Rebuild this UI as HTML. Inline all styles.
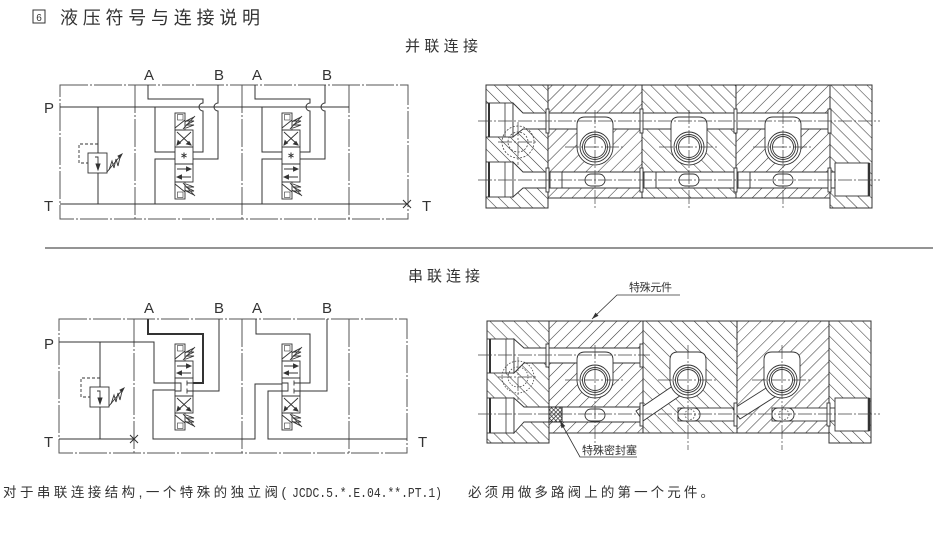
<!DOCTYPE html>
<html><head><meta charset="utf-8"><style>
html,body{margin:0;padding:0;background:#fff;}
svg{display:block;}
text{font-family:"Liberation Sans","Noto Sans CJK SC",sans-serif;fill:#333;}
</style></head><body>
<svg width="944" height="535" viewBox="0 0 944 535" xmlns="http://www.w3.org/2000/svg">
<defs>
<pattern id="hB" patternUnits="userSpaceOnUse" width="8.5" height="8.5" patternTransform="rotate(-45)"><rect width="8.5" height="8.5" fill="#fff"/><line x1="0" y1="-1" x2="0" y2="10" stroke="#3a3a3a" stroke-width="1.1"/></pattern>
<pattern id="hF" patternUnits="userSpaceOnUse" width="8.5" height="8.5" patternTransform="rotate(45)"><rect width="8.5" height="8.5" fill="#fff"/><line x1="0" y1="-1" x2="0" y2="10" stroke="#3a3a3a" stroke-width="1.1"/></pattern>
<pattern id="hX" patternUnits="userSpaceOnUse" width="3" height="3" patternTransform="rotate(45)"><rect width="3" height="3" fill="#fff"/><line x1="0" y1="0" x2="0" y2="3" stroke="#222" stroke-width="1.3"/><line x1="0" y1="0" x2="3" y2="0" stroke="#222" stroke-width="1.3"/></pattern>
<g id="spA">
<rect x="0" y="0" width="10" height="17"/>
<rect x="2.5" y="1.5" width="5.5" height="5.5" stroke-width="0.6"/>
<line x1="0" y1="15" x2="10" y2="7"/>
<polyline points="10,9 19,4 11,8 19,8 11,12 19,12 11,15"/>
<line x1="8" y1="16" x2="20" y2="3"/>
</g>
<g id="spoolT" fill="none" stroke="#333" stroke-width="0.9">
<use href="#spA"/>
<rect x="0" y="17" width="18" height="17"/>
<path d="M2,19L16,32M16,19L2,32"/>
<path d="M16,32l-4.5,-1l2.5,-2.5zM2,32l1,-4.5l2.5,2.5z" fill="#333"/>
<rect x="0" y="34" width="18" height="17"/>
<path d="M9,39.5v6M6.4,41l5.2,3M6.4,44l5.2,-3" stroke-width="1"/>
<rect x="0" y="51" width="18" height="18"/>
<path d="M2,56H16M16,64H2"/>
<path d="M16,56l-4.5,-2v4zM2,64l4.5,-2v4z" fill="#333"/>
<use href="#spA" transform="translate(0,86) scale(1,-1)"/>
</g>
<g id="spoolB" fill="none" stroke="#333" stroke-width="0.9">
<use href="#spA"/>
<rect x="0" y="17" width="18" height="17"/>
<path d="M2,22H16M16,29H2"/>
<path d="M16,22l-4.5,-2v4zM2,29l4.5,-2v4z" fill="#333"/>
<rect x="0" y="34" width="18" height="18"/>
<path d="M0,39H6V47H0"/>
<path d="M12,36.5V41.5M12,39H18M12,44.5V49.5M12,47H18"/>
<rect x="0" y="52" width="18" height="17"/>
<path d="M2,54L16,67M16,54L2,67"/>
<path d="M16,67l-4.5,-1l2.5,-2.5zM2,67l1,-4.5l2.5,2.5z" fill="#333"/>
<use href="#spA" transform="translate(0,86) scale(1,-1)"/>
</g>
<g id="relief" fill="none" stroke="#333" stroke-width="0.9">
<rect x="88" y="153" width="19" height="20"/>
<path d="M98,144H79V163H88" stroke-dasharray="3,2"/>
<path d="M95,157H98V170"/>
<polygon points="96,164 100,164 98,170" fill="#333"/>
<polyline points="109,170 112,161 114,168 116,159 118,166 120,157"/>
<line x1="107" y1="172" x2="121" y2="155"/>
<polygon points="122,154 118,156 120,158" fill="#333"/>
</g>
</defs>

<!-- Title -->
<rect x="33" y="10" width="12" height="13" fill="none" stroke="#333" stroke-width="1"/>
<text x="39" y="21" font-size="10" text-anchor="middle">6</text>
<text x="60" y="24" font-size="18" textLength="200" lengthAdjust="spacing">液压符号与连接说明</text>
<text x="405" y="51" font-size="15" textLength="73" lengthAdjust="spacing">并联连接</text>
<text x="408" y="281" font-size="15" textLength="72" lengthAdjust="spacing">串联连接</text>

<line x1="45" y1="248" x2="933" y2="248" stroke="#555" stroke-width="1.3"/>

<!-- ===== TOP SCHEMATIC ===== -->
<g fill="none" stroke="#555" stroke-width="1" stroke-dasharray="28,2,2,2">
<rect x="60" y="85" width="348" height="134"/>
<line x1="135" y1="85" x2="135" y2="219"/>
<line x1="242" y1="85" x2="242" y2="219"/>
<line x1="349" y1="85" x2="349" y2="219"/>
</g>
<g fill="none" stroke="#333" stroke-width="1">
<line x1="60" y1="107" x2="349" y2="107"/>
<line x1="60" y1="204" x2="407" y2="204"/>
<path d="M403,200L411,208M411,200L403,208"/>
<line x1="98" y1="107" x2="98" y2="153"/>
<line x1="98" y1="173" x2="98" y2="204"/>
<path d="M148,85V99H203V103A4,4 0 0 0 203,111V152H193"/>
<path d="M218,85V103A4,4 0 0 0 218,111V159H193"/>
<path d="M155,107V152H175"/>
<path d="M155,204V159H175"/>
<g transform="translate(107,0)">
<path d="M148,85V99H203V103A4,4 0 0 0 203,111V152H193"/>
<path d="M218,85V103A4,4 0 0 0 218,111V159H193"/>
<path d="M155,107V152H175"/>
<path d="M155,204V159H175"/>
</g>
</g>
<use href="#relief"/>
<use href="#spoolT" x="175" y="113"/>
<use href="#spoolT" x="282" y="113"/>
<text x="144" y="80" font-size="15">A</text>
<text x="214" y="80" font-size="15">B</text>
<text x="252" y="80" font-size="15">A</text>
<text x="322" y="80" font-size="15">B</text>
<text x="44" y="113" font-size="15">P</text>
<text x="44" y="211" font-size="15">T</text>
<text x="422" y="211" font-size="15">T</text>

<!-- ===== BOTTOM SCHEMATIC ===== -->
<g fill="none" stroke="#555" stroke-width="1" stroke-dasharray="28,2,2,2">
<rect x="59" y="319" width="348" height="134"/>
<line x1="134" y1="319" x2="134" y2="453"/>
<line x1="242" y1="319" x2="242" y2="453"/>
<line x1="349" y1="319" x2="349" y2="453"/>
</g>
<g fill="none" stroke="#333" stroke-width="1">
<path d="M59,342H154V383H175"/>
<line x1="59" y1="439" x2="134" y2="439"/>
<path d="M130,435L138,443M138,435L130,443"/>
<line x1="100" y1="342" x2="100" y2="387"/>
<line x1="100" y1="407" x2="100" y2="439"/>
<path d="M148,319V334H203V383H193" stroke-width="2"/>
<path d="M219,319V391H193"/>
<path d="M175,390H153V439H255V384H282"/>
<path d="M256,319V334H310V383H300"/>
<path d="M327,319V391H300"/>
<path d="M282,391H268V439H407"/>
</g>
<use href="#relief" transform="translate(2,234)"/>
<use href="#spoolB" x="175" y="344"/>
<use href="#spoolB" x="282" y="344"/>
<text x="144" y="313" font-size="15">A</text>
<text x="214" y="313" font-size="15">B</text>
<text x="252" y="313" font-size="15">A</text>
<text x="322" y="313" font-size="15">B</text>
<text x="44" y="349" font-size="15">P</text>
<text x="44" y="447" font-size="15">T</text>
<text x="418" y="447" font-size="15">T</text>

<!-- ===== TOP CROSS SECTION ===== -->
<g stroke="#333" stroke-width="1">
<rect x="486" y="85" width="62" height="123" fill="url(#hB)"/>
<rect x="548" y="85" width="94" height="113" fill="url(#hF)"/>
<rect x="642" y="85" width="94" height="113" fill="url(#hB)"/>
<rect x="736" y="85" width="94" height="113" fill="url(#hF)"/>
<rect x="830" y="85" width="42" height="123" fill="url(#hB)"/>
</g>
<g fill="#fff" stroke="#333" stroke-width="0.9">
<rect x="486" y="103" width="27" height="34"/>
<polygon points="513,103 523,113 830,113 830,129 523,129 513,137"/>
<rect x="486" y="162" width="27" height="35"/>
<polygon points="513,162 523,172 835,172 835,188 523,188 513,197"/>
<rect x="835" y="163" width="34" height="33"/>
<path d="M577,147V125Q577,117 585,117H605Q613,117 613,125V147A18,18 0 0 1 577,147Z"/>
<path d="M671,147V125Q671,117 679,117H699Q707,117 707,125V147A18,18 0 0 1 671,147Z"/>
<path d="M765,147V125Q765,117 773,117H793Q801,117 801,125V147A18,18 0 0 1 765,147Z"/>
<circle cx="595" cy="147" r="15"/><circle cx="595" cy="147" r="12.5"/><circle cx="595" cy="147" r="10.5"/>
<circle cx="689" cy="147" r="15"/><circle cx="689" cy="147" r="12.5"/><circle cx="689" cy="147" r="10.5"/>
<circle cx="783" cy="147" r="15"/><circle cx="783" cy="147" r="12.5"/><circle cx="783" cy="147" r="10.5"/>
<rect x="585" y="174" width="20" height="12" rx="6"/>
<rect x="679" y="174" width="20" height="12" rx="6"/>
<rect x="773" y="174" width="20" height="12" rx="6"/>
<rect x="550" y="172" width="12" height="16"/>
<rect x="644" y="172" width="12" height="16"/>
<rect x="738" y="172" width="12" height="16"/>
<rect x="546" y="109" width="3" height="24"/><rect x="546" y="168" width="3" height="24"/>
<rect x="640" y="109" width="3" height="24"/><rect x="640" y="168" width="3" height="24"/>
<rect x="734" y="109" width="3" height="24"/><rect x="734" y="168" width="3" height="24"/>
<rect x="828" y="109" width="3" height="24"/><rect x="828" y="168" width="3" height="24"/>
</g>
<line x1="869" y1="163" x2="869" y2="196" stroke="#333" stroke-width="2.5"/>
<line x1="489" y1="103" x2="489" y2="137" stroke="#333" stroke-width="2"/>
<line x1="489" y1="162" x2="489" y2="197" stroke="#333" stroke-width="2"/>
<line x1="505" y1="103" x2="505" y2="137" stroke="#333" stroke-width="0.8"/>
<line x1="505" y1="162" x2="505" y2="197" stroke="#333" stroke-width="0.8"/>
<g fill="none" stroke="#444" stroke-width="0.8">
<circle cx="518" cy="142" r="16" stroke-dasharray="2,1.5"/>
<circle cx="518" cy="142" r="10" stroke-dasharray="2,1.5"/>
</g>
<g fill="none" stroke="#444" stroke-width="0.7" stroke-dasharray="14,2,2,2">
<line x1="478" y1="121" x2="880" y2="121"/>
<line x1="478" y1="180" x2="880" y2="180"/>
<line x1="595" y1="110" x2="595" y2="208"/>
<line x1="689" y1="110" x2="689" y2="208"/>
<line x1="783" y1="110" x2="783" y2="208"/>
<line x1="565" y1="147" x2="625" y2="147"/>
<line x1="659" y1="147" x2="719" y2="147"/>
<line x1="753" y1="147" x2="813" y2="147"/>
<line x1="518" y1="122" x2="518" y2="165"/>
<line x1="498" y1="142" x2="538" y2="142"/>
</g>

<!-- ===== BOTTOM CROSS SECTION ===== -->
<g stroke="#333" stroke-width="1">
<rect x="487" y="321" width="62" height="122" fill="url(#hB)"/>
<rect x="549" y="321" width="94" height="112" fill="url(#hF)"/>
<rect x="643" y="321" width="94" height="112" fill="url(#hB)"/>
<rect x="737" y="321" width="92" height="112" fill="url(#hF)"/>
<rect x="829" y="321" width="42" height="122" fill="url(#hB)"/>
</g>
<g fill="#fff" stroke="#333" stroke-width="0.9">
<rect x="487" y="339" width="27" height="34"/>
<polygon points="514,339 524,348 643,348 643,363 524,363 514,373"/>
<rect x="487" y="398" width="27" height="35"/>
<polygon points="514,398 524,407 643,407 643,422 524,422 514,433"/>
<polygon points="636,411 680,381 687,391 643,421"/>
<rect x="678" y="408" width="59" height="13"/>
<polygon points="733,409 774,383 781,393 740,419"/>
<rect x="772" y="408" width="63" height="13"/>
<rect x="835" y="398" width="34" height="33"/>
<path d="M577,380V360Q577,352 585,352H605Q613,352 613,360V380A18,18 0 0 1 577,380Z"/>
<path d="M670,380V360Q670,352 678,352H698Q706,352 706,360V380A18,18 0 0 1 670,380Z"/>
<path d="M764,380V360Q764,352 772,352H792Q800,352 800,360V380A18,18 0 0 1 764,380Z"/>
<circle cx="595" cy="380" r="15"/><circle cx="595" cy="380" r="12.5"/><circle cx="595" cy="380" r="10.5"/>
<circle cx="688" cy="380" r="15"/><circle cx="688" cy="380" r="12.5"/><circle cx="688" cy="380" r="10.5"/>
<circle cx="782" cy="380" r="15"/><circle cx="782" cy="380" r="12.5"/><circle cx="782" cy="380" r="10.5"/>
<rect x="585" y="409" width="20" height="12" rx="6"/>
<rect x="678" y="408" width="22" height="13" rx="6"/>
<rect x="772" y="408" width="22" height="13" rx="6"/>
<rect x="546" y="344" width="3" height="23"/>
<rect x="640" y="344" width="3" height="23"/><rect x="640" y="403" width="3" height="23"/>
<rect x="734" y="403" width="3" height="23"/>
<rect x="827" y="403" width="3" height="23"/>
</g>
<rect x="549" y="407" width="13" height="15" fill="url(#hX)" stroke="#222" stroke-width="1"/>
<line x1="869" y1="398" x2="869" y2="431" stroke="#333" stroke-width="2.5"/>
<line x1="490" y1="339" x2="490" y2="373" stroke="#333" stroke-width="2"/>
<line x1="490" y1="398" x2="490" y2="433" stroke="#333" stroke-width="2"/>
<line x1="506" y1="339" x2="506" y2="373" stroke="#333" stroke-width="0.8"/>
<line x1="506" y1="398" x2="506" y2="433" stroke="#333" stroke-width="0.8"/>
<g fill="none" stroke="#444" stroke-width="0.8" stroke-dasharray="1.5,1.5">
<circle cx="518" cy="377" r="16"/>
<circle cx="518" cy="377" r="10"/>
<circle cx="690" cy="414.5" r="5"/>
<circle cx="784" cy="414.5" r="5"/>
</g>
<g fill="none" stroke="#444" stroke-width="0.7" stroke-dasharray="14,2,2,2">
<line x1="478" y1="355" x2="650" y2="355"/>
<line x1="478" y1="414" x2="880" y2="414"/>
<line x1="595" y1="345" x2="595" y2="450"/>
<line x1="688" y1="345" x2="688" y2="450"/>
<line x1="782" y1="345" x2="782" y2="450"/>
<line x1="565" y1="380" x2="625" y2="380"/>
<line x1="658" y1="380" x2="718" y2="380"/>
<line x1="752" y1="380" x2="812" y2="380"/>
<line x1="518" y1="357" x2="518" y2="400"/>
<line x1="498" y1="377" x2="538" y2="377"/>
</g>

<!-- leaders -->
<g fill="none" stroke="#333" stroke-width="0.8">
<path d="M680,295H617L592,319"/>
<path d="M637,457H580L560,421"/>
</g>
<polygon points="592,319 598.5,315.8 595.5,312.6" fill="#333"/>
<polygon points="560,421 565.3,426 561.5,428.2" fill="#333"/>
<text x="629" y="291" font-size="11" textLength="43" lengthAdjust="spacing">特殊元件</text>
<text x="582" y="454" font-size="11" textLength="55" lengthAdjust="spacing">特殊密封塞</text>

<!-- footnote -->
<text x="3" y="497" font-size="13.5" textLength="283" lengthAdjust="spacing">对于串联连接结构,一个特殊的独立阀(</text>
<text x="292" y="497" font-size="13.5" textLength="150" lengthAdjust="spacingAndGlyphs" style="font-family:'Liberation Mono',monospace">JCDC.5.*.E.04.**.PT.1)</text>
<text x="468" y="497" font-size="13.5" textLength="246" lengthAdjust="spacing">必须用做多路阀上的第一个元件。</text>
</svg>
</body></html>
